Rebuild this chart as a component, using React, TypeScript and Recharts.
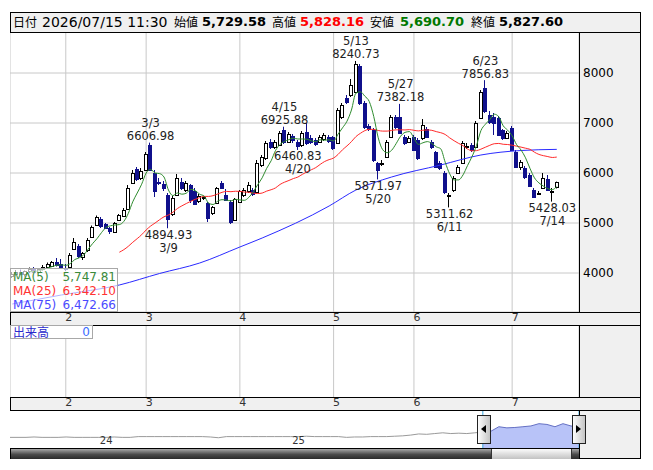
import { ComposedChart, Bar, Line, Area, XAxis, YAxis, CartesianGrid, ReferenceDot, ReferenceLine } from 'recharts'

// daily candles, 2026/01/15 .. 2026/07/15
const open = [
  3950, 3990, 4030, 3980, 4040, 4080, 4030, 4090, 4120, 4150, 4220, 4180,
  4100, 4120, 4480, 4540, 4330, 4460, 4720, 4960, 5080, 4980, 4900, 4820, 5060, 5140, 5280, 5800, 6080, 5900,
  6060, 6560, 6000, 5830, 5780, 5560, 5180, 5560, 5820, 5660, 5760, 5640, 5440, 5500, 5400, 5200, 5400, 5800, 5560, 5420, 5060,
  5420, 5560, 5640, 5660, 5620, 6160, 6300, 6620, 6520, 6560, 6860, 6620, 6740, 6620, 6560, 6820, 6700, 6660, 6620, 6680, 6720,
  6720, 6600, 7120, 7500, 7560, 7620, 8140, 7400, 6940, 6860, 6200, 6200, 6320, 6720, 7120, 7120, 6720, 6620,
  6720, 6660, 6700, 6880, 6620, 6420, 6200, 6000, 5560, 5660, 6000, 6200, 6540, 6560, 6520, 7100, 7700, 7160, 7120, 7100, 6860, 6700,
  6900, 6420, 6120, 6100, 5960, 5660, 5600, 5700, 5880, 5640, 5729.58,
]
const high = [
  4020, 4060, 4070, 4050, 4110, 4120, 4100, 4160, 4210, 4240, 4300, 4280,
  4180, 4400, 4700, 4580, 4420, 4700, 4950, 5150, 5120, 5000, 4920, 5020, 5180, 5300, 5760, 6060, 6120, 6100,
  6420, 6606.98, 6060, 5900, 5840, 5600, 5540, 5980, 5900, 5840, 5780, 5700, 5580, 5540, 5420, 5340, 5720, 5840, 5680, 5460, 5500,
  5660, 5700, 5820, 5700, 6260, 6360, 6640, 6680, 6660, 6840, 6925.88, 6820, 6780, 6660, 6840, 7000, 6760, 6700, 6760, 6800, 6760,
  6740, 7300, 7400, 7560, 7880, 8240.73, 8180, 7440, 6980, 6900, 6220, 6260, 6660, 7160, 7160, 7382.18, 6760, 6740,
  6760, 6700, 7080, 6920, 6660, 6440, 6240, 6040, 5600, 5940, 6160, 6640, 6600, 6600, 7040, 7660, 7856.83, 7240, 7200, 7140, 6880, 6840,
  6940, 6460, 6260, 6140, 6000, 5700, 5640, 6000, 5960, 5700, 5828.16,
]
const low = [
  3900, 3950, 3960, 3930, 4000, 4010, 3990, 4050, 4090, 4120, 4130, 4100,
  4040, 4100, 4460, 4300, 4260, 4420, 4700, 4940, 4900, 4880, 4780, 4800, 5040, 5120, 5260, 5780, 5840, 5860,
  6040, 6040, 5520, 5760, 5640, 4894.93, 5140, 5540, 5660, 5620, 5400, 5360, 5400, 5460, 5020, 5160, 5380, 5680, 5440, 4980, 5040,
  5400, 5520, 5600, 5540, 5600, 6120, 6260, 6480, 6480, 6540, 6580, 6600, 6600, 6460.83, 6520, 6560, 6580, 6540, 6600, 6640, 6600,
  6460, 6580, 7080, 7380, 7520, 7600, 7360, 6880, 6840, 6220, 5871.97, 6140, 6300, 6700, 6880, 6780, 6560, 6600,
  6440, 6260, 6660, 6700, 6480, 6100, 6060, 5580, 5311.62, 5620, 5980, 6180, 6480, 6420, 6500, 7080, 7200, 6980, 6760, 6740, 6660, 6680,
  6440, 6100, 6060, 5880, 5720, 5500, 5560, 5680, 5640, 5428.03, 5690.7,
]
const close = [
  3990, 4030, 3980, 4040, 4080, 4030, 4090, 4120, 4190, 4220, 4160, 4120,
  4080, 4360, 4620, 4340, 4400, 4660, 4920, 5120, 4940, 4900, 4840, 5000, 5160, 5260, 5700, 6000, 5880, 6040,
  6380, 6060, 5640, 5820, 5700, 5080, 5500, 5900, 5700, 5800, 5460, 5380, 5540, 5510, 5100, 5320, 5700, 5700, 5470, 5020, 5480,
  5640, 5660, 5760, 5580, 6200, 6320, 6600, 6520, 6620, 6800, 6620, 6780, 6660, 6540, 6800, 6600, 6620, 6580, 6720, 6760, 6640,
  6500, 7260, 7360, 7420, 7760, 8180, 7400, 6920, 6880, 6260, 6060, 6210, 6620, 7120, 6920, 6800, 6600, 6700,
  6460, 6300, 6960, 6720, 6520, 6120, 6100, 5620, 5570, 5900, 6120, 6600, 6550, 6460, 7000, 7620, 7240, 7020, 7000, 6760, 6700, 6800,
  6460, 6120, 6220, 5920, 5740, 5520, 5610, 5900, 5660, 5650, 5827.6,
]
const volume: number[] = close.map(() => 0)

// 75-day average at a few candles
const ma75Idx = [0, 11, 24, 33, 42, 51, 56, 71, 77, 85, 96, 105, 114, 122]
const ma75Val = [3380, 3560, 3760, 3990, 4200, 4520, 4700, 5340, 5660, 5920, 6160, 6360, 6450, 6472.66]

const monthStart = [12, 30, 51, 72, 90, 112]
const monthLabel = ['2', '3', '4', '5', '6', '7']
const priceTicks = [4000, 5000, 6000, 7000, 8000]

const annIdx = [31, 35, 61, 64, 77, 82, 87, 98, 106, 121]
const annDate = ['3/3', '3/9', '4/15', '4/20', '5/13', '5/20', '5/27', '6/11', '6/23', '7/14']
const annPrice = [6606.98, 4894.93, 6925.88, 6460.83, 8240.73, 5871.97, 7382.18, 5311.62, 7856.83, 5428.03]
const annHigh = [true, false, true, false, true, false, true, false, true, false]

// navigator (semi-monthly, mid 2023 .. 2026/07)
const navValue = [
  28, 28, 28, 29, 28, 28, 28, 29, 28, 28, 28, 28, 28, 29, 28, 28,
  30, 30, 30, 30, 30, 30, 30, 30, 30, 29, 27,
  30, 30, 30, 30, 30, 30, 30, 30, 30, 30, 31, 30, 30, 30, 30, 28,
  29, 29, 30, 30, 30, 31, 32, 34, 37, 36, 38, 40, 38, 39, 38, 40,
  42, 44, 56, 53, 54, 56, 58, 64, 62, 56, 64, 58, 55,
]
const navSelStart = 59
const navYearIdx = [12, 36]
const navYearLabel = ['24', '25']

const avg = (a: number[]) => a.reduce((s, v) => s + v, 0) / a.length
const movAvg = (n: number) => close.map((_, i) => (i < n - 1 ? null : avg(close.slice(i - n + 1, i + 1))))
const ma5 = movAvg(5)
const ma25 = movAvg(25)

const rows = close.map((c, i) => ({
  i,
  o: open[i],
  h: high[i],
  l: low[i],
  c,
  hl: [low[i], high[i]],
  ma5: ma5[i],
  ma25: ma25[i],
  ma75: ma75Idx.includes(i) ? ma75Val[ma75Idx.indexOf(i)] : null,
  vol: volume[i],
}))

const navRows = navValue.map((v, k) => ({
  k,
  pre: k <= navSelStart ? v : null,
  sel: k >= navSelStart ? v : null,
}))

const BEAR = '#10108c'

function Candle(props: any) {
  const { x, y, width, height, payload } = props
  const { o, h, l, c } = payload
  const cx = Math.round(x + width / 2)
  const py = (v: number) => y + ((h - v) / (h - l)) * height
  const top = Math.round(py(Math.max(o, c)))
  const bot = Math.round(py(Math.min(o, c)))
  const up = c >= o
  const col = up ? '#000' : BEAR
  return (
    <g>
      <line x1={cx - 0.5} x2={cx - 0.5} y1={y} y2={y + height} stroke={col} strokeWidth={1} />
      <rect x={cx - 1.5} y={top + 0.5} width={3} height={Math.max(bot - top, 1)} fill={up ? '#fff' : col} stroke={col} strokeWidth={1} />
    </g>
  )
}

function annShape(j: number) {
  return (p: any) => {
    const { cx, cy } = p
    const val = annPrice[j].toFixed(2)
    const first = annHigh[j] ? annDate[j] : val
    const second = annHigh[j] ? val : annDate[j]
    const y1 = annHigh[j] ? cy - 19.5 : cy + 6.5
    return (
      <g fontSize={11.5} fill="#222" textAnchor="middle">
        <text x={cx} y={y1} dominantBaseline="central">{first}</text>
        <text x={cx} y={y1 + 13} dominantBaseline="central">{second}</text>
      </g>
    )
  }
}

const monthAxis = (
  <XAxis
    dataKey="i"
    ticks={monthStart}
    interval={0}
    tickFormatter={(i: number) => monthLabel[monthStart.indexOf(i)]}
    height={13}
    axisLine={false}
    tickLine={false}
    tickSize={0}
    tickMargin={1}
    padding={{ left: 0, right: 20 }}
    tick={{ fontSize: 11, fill: '#333', dx: 3 }}
  />
)

const hline = (y: number, x1: number, x2: number) => (
  <div key={`h${y}`} style={{ position: 'absolute', left: x1, top: y, width: x2 - x1, height: 1, background: '#000' }} />
)
const vline = (x: number, y1: number, y2: number) => (
  <div key={`v${x}${y1}`} style={{ position: 'absolute', left: x, top: y1, width: 1, height: y2 - y1, background: '#000' }} />
)

const hdr = (left: number, text: string, style: any = {}) => (
  <span style={{ position: 'absolute', left, top: 12, lineHeight: '20px', fontSize: 13, whiteSpace: 'nowrap', ...style }}>{text}</span>
)
const jp = { fontFamily: "'Noto Sans CJK JP', sans-serif", fontSize: 12 }
const num = { fontWeight: 'bold' as const }

export default function App() {
  return (
    <div style={{ position: 'absolute', left: 0, top: 0, width: 653, height: 470, background: '#fff', fontFamily: "'DejaVu Sans', sans-serif" }}>
      <div style={{ position: 'absolute', left: 10, top: 12, width: 631, height: 447, background: '#f0f0f0', border: '1px solid #000', boxSizing: 'border-box' }} />

      {hdr(13, '日付', jp)}
      {hdr(42, '2026/07/15 11:30', { fontSize: 14 })}
      {hdr(174, '始値', jp)}
      {hdr(202, '5,729.58', num)}
      {hdr(272, '高値', jp)}
      {hdr(300, '5,828.16', { ...num, color: '#ff0000' })}
      {hdr(370, '安値', jp)}
      {hdr(400, '5,690.70', { ...num, color: '#007800' })}
      {hdr(471, '終値', jp)}
      {hdr(499, '5,827.60', num)}

      <div style={{ position: 'absolute', left: 10, top: 32 }}>
        <ComposedChart width={631} height={293} data={rows} margin={{ top: 0, right: 0, bottom: 0, left: 0 }} barCategoryGap={0} barGap={0}>
          <CartesianGrid fill="#fff" stroke="#c8c8c8" />
          {monthAxis}
          <YAxis
            orientation="right"
            width={62}
            domain={[3220, 8820]}
            ticks={priceTicks}
            allowDataOverflow
            axisLine={false}
            tickLine={false}
            tickSize={0}
            tickMargin={4}
            tick={{ fontSize: 12, fill: '#000' }}
          />
          <Bar dataKey="hl" shape={Candle} isAnimationActive={false} />
          <Line dataKey="ma75" type="monotone" stroke="#2a2aff" strokeWidth={1} dot={false} connectNulls isAnimationActive={false} />
          <Line dataKey="ma25" type="monotone" stroke="#ff2a2a" strokeWidth={1} dot={false} isAnimationActive={false} />
          <Line dataKey="ma5" type="monotone" stroke="#2e8b2e" strokeWidth={1} dot={false} isAnimationActive={false} />
          {annIdx.map((i, j) => (
            <ReferenceDot key={i} x={i} y={annPrice[j]} r={0} ifOverflow="visible" shape={annShape(j)} />
          ))}
        </ComposedChart>
      </div>

      <div style={{ position: 'absolute', left: 10, top: 325 }}>
        <ComposedChart width={631} height={85} data={rows} margin={{ top: 0, right: 62, bottom: 0, left: 0 }}>
          <CartesianGrid fill="#fff" stroke="#c8c8c8" horizontal={false} />
          {monthAxis}
          <YAxis hide domain={[0, 1]} />
          <Bar dataKey="vol" fill="#4060ff" isAnimationActive={false} />
        </ComposedChart>
      </div>

      <div style={{ position: 'absolute', left: 10, top: 410, width: 569, height: 38, background: '#fff' }}>
        <ComposedChart width={569} height={38} data={navRows} margin={{ top: 0, right: 0, bottom: 0, left: 0 }}>
          <XAxis type="number" dataKey="k" domain={[0, navValue.length - 1]} hide />
          <YAxis hide domain={[0, 100]} />
          <Area dataKey="sel" type="linear" stroke="#6470c4" strokeWidth={1} fill="#b8c3f8" fillOpacity={1} dot={false} isAnimationActive={false} />
          <Line dataKey="pre" type="linear" stroke="#9a9a9a" strokeWidth={1} dot={false} isAnimationActive={false} />
          {navYearIdx.map((k, j) => (
            <ReferenceLine
              key={k}
              x={k}
              stroke="none"
              label={(p: any) => (
                <text x={p.viewBox.x} y={34} textAnchor="middle" fontSize={10} fill="#333">{navYearLabel[j]}</text>
              )}
            />
          ))}
          <ReferenceLine x={navSelStart} stroke="#3aa8e0" />
          <ReferenceLine x={navValue.length - 1} stroke="#3aa8e0" />
        </ComposedChart>
      </div>

      {/* scrollbar */}
      <div style={{ position: 'absolute', left: 11, top: 449, width: 568, height: 10, background: 'linear-gradient(#a8a8a8, #4a4a4a 55%, #2a2a2a)' }} />
      <div style={{ position: 'absolute', left: 491, top: 449, width: 81, height: 10, background: 'linear-gradient(#fbfbfb, #c2c2c2)', borderLeft: '1px solid #333', borderRight: '1px solid #333', boxSizing: 'border-box' }} />

      {hline(32, 10, 641)}
      {vline(579, 32, 312)}
      {hline(312, 10, 641)}
      {hline(325, 10, 641)}
      {vline(579, 325, 397)}
      {hline(397, 10, 641)}
      {hline(410, 10, 641)}
      {vline(579, 410, 459)}
      {hline(448, 10, 579)}

      {/* navigator handles */}
      {[477, 572].map((left, j) => (
        <div key={left} style={{ position: 'absolute', left, top: 415, width: 14, height: 29, border: '1px solid #222', boxSizing: 'border-box', background: 'linear-gradient(to right, #fdfdfd, #c4c4c4)' }}>
          <div
            style={{
              position: 'absolute',
              left: 3,
              top: 9,
              width: 0,
              height: 0,
              borderTop: '4px solid transparent',
              borderBottom: '4px solid transparent',
              ...(j === 0 ? { borderRight: '5px solid #000' } : { borderLeft: '5px solid #000' }),
            }}
          />
        </div>
      ))}

      {/* MA legend */}
      <div style={{ position: 'absolute', left: 10, top: 268, width: 108, height: 44, border: '1px solid #a8a8a8', boxSizing: 'border-box', background: 'rgba(255,255,255,0.65)', fontSize: 12, lineHeight: '14px', paddingTop: 1 }}>
        {[
          ['MA(5)', '5,747.81', '#3a8a3a'],
          ['MA(25)', '6,342.10', '#ff3333'],
          ['MA(75)', '6,472.66', '#4a4aff'],
        ].map(([k, v, col]) => (
          <div key={k} style={{ display: 'flex', justifyContent: 'space-between', padding: '0 1px 0 2px', color: col }}>
            <span>{k}</span>
            <span>{v}</span>
          </div>
        ))}
      </div>

      {/* volume label */}
      <div style={{ position: 'absolute', left: 10, top: 325, width: 83, height: 14, border: '1px solid #a8a8a8', boxSizing: 'border-box', background: '#fff', display: 'flex', justifyContent: 'space-between', alignItems: 'center', padding: '0 2px', fontSize: 12 }}>
        <span style={{ ...jp, color: '#2a2acc', lineHeight: '12px' }}>出来高</span>
        <span style={{ color: '#3c6cff', lineHeight: '12px' }}>0</span>
      </div>
    </div>
  )
}
